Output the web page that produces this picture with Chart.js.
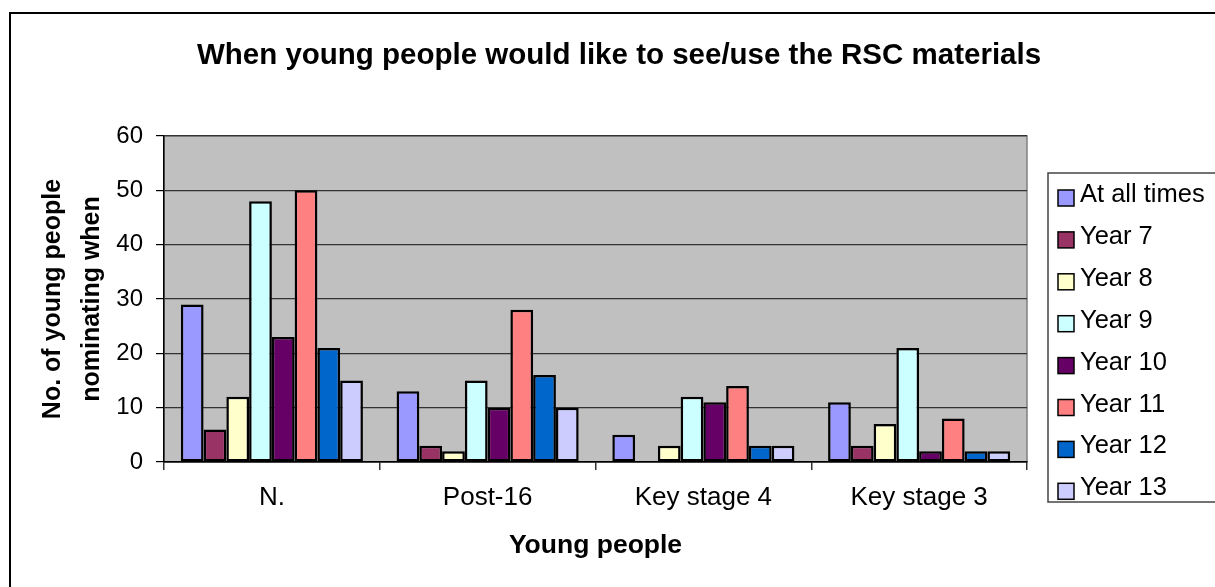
<!DOCTYPE html>
<html>
<head>
<meta charset="utf-8">
<script src="https://cdn.jsdelivr.net/npm/chart.js@4"></script>
<style>
  html, body { margin: 0; padding: 0; background: #fff; overflow: hidden; }
  canvas { display: block; }
</style>
</head>
<body>
<canvas id="chart" width="1215" height="587"></canvas>
<script>
// Data
const categories = ['N.', 'Post-16', 'Key stage 4', 'Key stage 3'];
const seriesNames = ['At all times', 'Year 7', 'Year 8', 'Year 9', 'Year 10', 'Year 11', 'Year 12', 'Year 13'];
const atAllTimes = [29, 13, 5, 11];
const year7 = [6, 3, 0, 3];
const year8 = [12, 2, 3, 7];
const year9 = [48, 15, 12, 21];
const year10 = [23, 10, 11, 2];
const year11 = [50, 28, 14, 8];
const year12 = [21, 16, 3, 2];
const year13 = [15, 10, 3, 2];
const yTicks = [0, 10, 20, 30, 40, 50, 60];

const seriesValues = [atAllTimes, year7, year8, year9, year10, year11, year12, year13];
const seriesColors = ['#9999FF', '#993366', '#FFFFCC', '#CCFFFF', '#660066', '#FF8080', '#0066CC', '#CCCCFF'];

const FONT = "'Liberation Sans', Arial, sans-serif";

// white page, outer frame, grey plot background
const backdrop = {
    id: 'backdrop',
    beforeDraw(chart) {
        const { ctx, chartArea: a } = chart;
        ctx.save();
        ctx.fillStyle = '#fff';
        ctx.fillRect(0, 0, chart.width, chart.height);
        ctx.strokeStyle = '#000';
        ctx.lineWidth = 2;
        ctx.strokeRect(10, 13, 1300, 700);
        ctx.fillStyle = '#C0C0C0';
        ctx.fillRect(a.left, a.top, a.right - a.left, a.bottom - a.top);
        ctx.strokeStyle = '#808080';
        ctx.lineWidth = 1.5;
        ctx.strokeRect(a.left, a.top, a.right - a.left, a.bottom - a.top);
        ctx.restore();
    }
};

// boxed legend on the right, like the original
const boxLegend = {
    id: 'boxLegend',
    afterDraw(chart) {
        const { ctx } = chart;
        ctx.save();
        ctx.strokeStyle = '#444';
        ctx.lineWidth = 1.5;
        ctx.strokeRect(1048, 173, 200, 329);
        ctx.font = '25.5px ' + FONT;
        ctx.textBaseline = 'middle';
        ctx.textAlign = 'left';
        chart.data.datasets.forEach((ds, i) => {
            const cy = 195 + i * 41.9;
            ctx.fillStyle = ds.backgroundColor;
            ctx.fillRect(1058, cy - 5, 16, 16);
            ctx.strokeStyle = '#000';
            ctx.lineWidth = 1.5;
            ctx.strokeRect(1058, cy - 5, 16, 16);
            ctx.fillStyle = '#000';
            ctx.fillText(ds.label, 1080, cy);
        });
        ctx.restore();
    }
};

const datasets = seriesNames.map((name, i) => ({
    label: name,
    data: seriesValues[i],
    backgroundColor: seriesColors[i],
    borderColor: '#000',
    borderWidth: 2.5,
    borderSkipped: false,
    categoryPercentage: 0.844,
    barPercentage: 1.0
}));

new Chart(document.getElementById('chart'), {
    type: 'bar',
    data: { labels: categories, datasets: datasets },
    options: {
        responsive: false,
        animation: false,
        layout: { padding: { left: 23, right: 0, top: 0, bottom: 0 } },
        plugins: {
            legend: { display: false },
            tooltip: { enabled: false },
            title: {
                display: true,
                text: 'When young people would like to see/use the RSC materials',
                color: '#000',
                font: { family: FONT, size: 29.5, weight: 'bold' },
                padding: { top: 38, bottom: 62.6 }
            }
        },
        scales: {
            x: {
                grid: { offset: true, drawOnChartArea: false, drawTicks: true, tickLength: 8, color: '#333', lineWidth: 1.5 },
                border: { display: true, color: '#000', width: 1.5 },
                ticks: { color: '#000', padding: 12, font: { family: FONT, size: 26 } },
                title: {
                    display: true,
                    text: 'Young people',
                    color: '#000',
                    font: { family: FONT, size: 26.5, weight: 'bold' },
                    padding: { top: 0, bottom: 25 }
                },
                afterFit(scale) { scale.height = 125; }
            },
            y: {
                min: 0,
                max: 60,
                afterBuildTicks(scale) { scale.ticks = yTicks.map(v => ({ value: v })); },
                grid: { color: '#333', lineWidth: 1.2, drawTicks: true, tickLength: 8, tickColor: '#000' },
                border: { display: true, color: '#000', width: 1.5 },
                ticks: { color: '#000', padding: 13, font: { family: FONT, size: 24 } },
                title: {
                    display: true,
                    text: ['No. of young people', 'nominating when'],
                    color: '#000',
                    font: { family: FONT, size: 25, weight: 'bold', lineHeight: '39px' },
                    padding: { top: 11, bottom: 0 }
                },
                afterFit(scale) { scale.width = 141; }
            },
            spacer: {
                position: 'right',
                display: true,
                grid: { display: false },
                border: { display: false },
                ticks: { display: false },
                afterFit(scale) { scale.width = 188; }
            }
        }
    },
    plugins: [backdrop, boxLegend]
});
</script>
</body>
</html>
